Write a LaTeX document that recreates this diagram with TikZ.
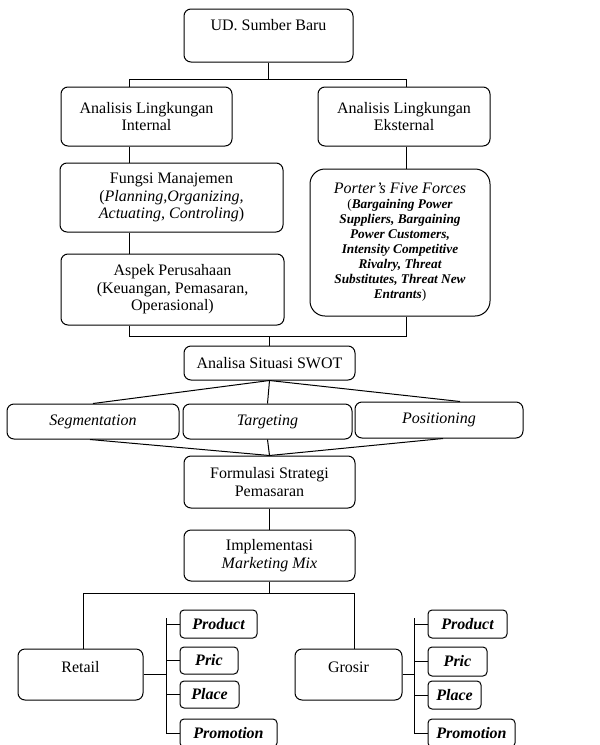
\documentclass[tikz,border=0pt]{standalone}
\usepackage{fontspec}
\setmainfont{Liberation Serif}
\usepackage{tikz}
\usepackage{xcolor}

\begin{document}
\begin{tikzpicture}[x=1pt, y=-1pt, line width=1pt,
    box/.style={draw, rounded corners=7pt, align=center, inner sep=2pt,
        font=\fontsize{16}{17.5}\selectfont},
    item/.style={box, rounded corners=4pt, font=\fontsize{16}{17.5}\selectfont\bfseries\itshape}]
            \useasboundingbox (0,0) rectangle (600,745);
            \node[box, minimum width=169pt, minimum height=53pt, text height=11pt, text depth=21pt] (ud) at (268.5,35.5) {UD. Sumber Baru};
            \node[box, minimum width=171pt, minimum height=59pt] (intl) at (146.5,116.5) {Analisis Lingkungan\\Internal};
            \node[box, minimum width=172pt, minimum height=59pt] (ekst) at (404,116.5) {Analisis Lingkungan\\Eksternal};
            \node[box, minimum width=223pt, minimum height=69pt] (fungsi) at (171.5,197.5) {Fungsi Manajemen\\(\textit{Planning,Organizing,}\\\textit{Actuating, Controling})};
            \node[box, minimum width=223pt, minimum height=71pt] (aspek) at (172.5,289.5) {Aspek Perusahaan\\(Keuangan, Pemasaran,\\Operasional)};
            \node[box, rounded corners=15pt, minimum width=180pt, minimum height=147pt,
                font=\fontsize{13.3}{15}\selectfont\bfseries\itshape] (porter) at (400,242.5)
                {{\fontsize{16}{16}\selectfont\mdseries Porter's Five Forces}\\
                 {\upshape\mdseries(}Bargaining Power\\Suppliers, Bargaining\\Power Customers,\\Intensity Competitive\\Rivalry, Threat\\Substitutes, Threat New\\Entrants{\upshape\mdseries)}};
            \node[box, minimum width=171pt, minimum height=34pt] (swot) at (269.5,363) {Analisa Situasi SWOT};
            \node[box, minimum width=172pt, minimum height=35pt] (seg) at (93,421.5) {\textit{Segmentation}};
            \node[box, minimum width=169pt, minimum height=35pt] (tgt) at (267.5,421.5) {\textit{Targeting}};
            \node[box, minimum width=168pt, minimum height=36pt] (pos) at (439,420) {\textit{Positioning}};
            \node[box, minimum width=171pt, minimum height=52pt] (form) at (269.5,482) {Formulasi Strategi\\Pemasaran};
            \node[box, minimum width=171pt, minimum height=51pt] (impl) at (269.5,555.5) {Implementasi\\\textit{Marketing Mix}};
            \node[box, minimum width=125pt, minimum height=51pt, text height=11pt, text depth=15pt] (retail) at (80.5,674.5) {Retail};
            \node[box, minimum width=107pt, minimum height=51pt, text height=11pt, text depth=15pt] (grosir) at (348.5,674.5) {Grosir};
            \node[item, minimum width=77pt, minimum height=28pt] (rprod) at (218.5,624) {Product};
            \node[item, minimum width=58pt, minimum height=27pt] (rpric) at (209,660.5) {Pric};
            \node[item, minimum width=59pt, minimum height=27pt] (rplace) at (209.5,694.5) {Place};
            \node[item, minimum width=97pt, minimum height=28pt] (rpromo) at (228.5,733) {Promotion};
            \node[item, minimum width=79pt, minimum height=28pt] (gprod) at (467.5,624) {Product};
            \node[item, minimum width=59pt, minimum height=29pt] (gpric) at (457.5,661.5) {Pric};
            \node[item, minimum width=53pt, minimum height=28pt] (gplace) at (454.5,695) {Place};
            \node[item, minimum width=87pt, minimum height=28pt] (gpromo) at (471.5,733) {Promotion};
            \coordinate (ltop) at (129,79);
            \coordinate (rtop) at (406,79);
            \coordinate (lbot) at (129,336);
            \coordinate (rbot) at (406,336);
            \coordinate (mixl) at (83,593);
            \coordinate (mixr) at (354,593);
            \coordinate (rbus) at (166,618);
            \coordinate (gbus) at (414,618);
            \draw (ud.south) -- (ud.south |- ltop);
            \draw (ltop |- intl.north) -- (ltop) -- (rtop) -- (rtop |- ekst.north);
            \draw (ltop |- intl.south) -- (ltop |- fungsi.north);
            \draw (ltop |- fungsi.south) -- (ltop |- aspek.north);
            \draw (rtop |- ekst.south) -- (rtop |- porter.north);
            \draw (ltop |- aspek.south) -- (lbot) -- (rbot) -- (rtop |- porter.south);
            \draw (swot.north) -- (swot.north |- lbot);
            \draw (seg.north) -- (swot.south) -- ([xshift=21pt]pos.north);
            \draw (swot.south) -- (tgt.north);
            \draw ([xshift=-3pt]seg.south) -- (form.north) -- ([xshift=4pt]pos.south);
            \draw (tgt.south) -- (form.north);
            \draw (form.south) -- (impl.north);
            \draw (impl.south) -- (impl.south |- mixl);
            \draw (mixl |- retail.north) -- (mixl) -- (mixr) -- (mixr |- grosir.north);
            \draw (retail.east) -- (retail.east -| rbus);
            \draw (rbus) -- (rbus |- rpromo.west);
            \draw (grosir.east) -- (grosir.east -| gbus);
            \draw (gbus) -- (gbus |- gpromo.west);
            \foreach \n in {rprod,rpric,rplace,rpromo}
                \draw (rbus |- \n.west) -- (\n.west);
            \foreach \n in {gprod,gpric,gplace,gpromo}
                \draw (gbus |- \n.west) -- (\n.west);
        \end{tikzpicture}
\end{document}
